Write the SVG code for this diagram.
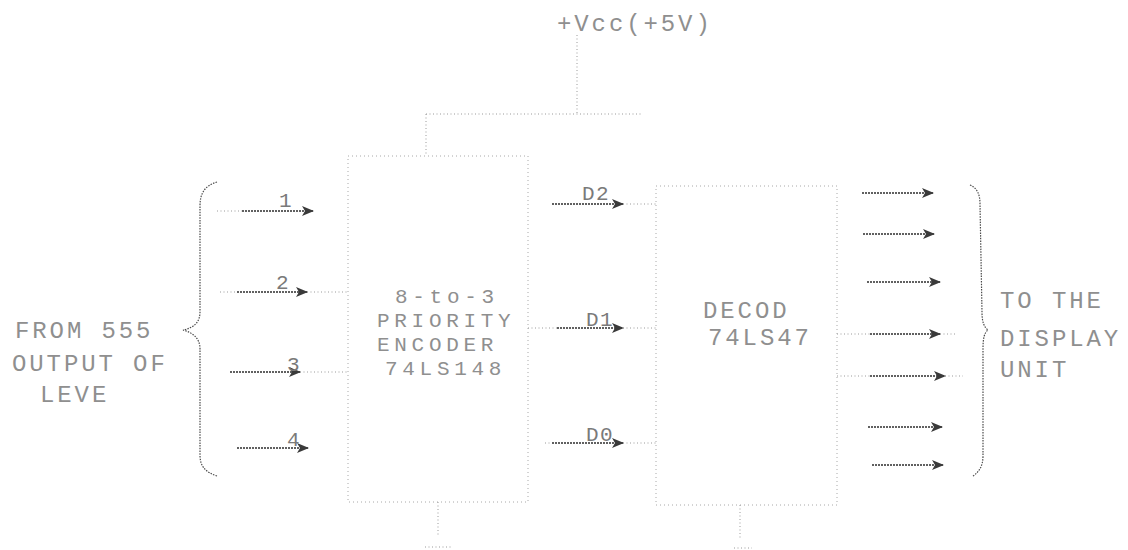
<svg xmlns="http://www.w3.org/2000/svg" width="1128" height="550" viewBox="0 0 1128 550">
<style>
.t{font-family:"Liberation Mono","DejaVu Sans Mono",monospace;font-size:24px;letter-spacing:2.9px;fill:#8f8f8f}
.e{font-size:21px;letter-spacing:4.7px}
.s{font-size:21px;letter-spacing:1.5px;fill:#7a7a7a}
.lt{fill:none;stroke:#9a9a9a;stroke-width:1;stroke-dasharray:1 2.5}
.bx{fill:none;stroke:#a8a8a8;stroke-width:1;stroke-dasharray:1 3}
.dk{fill:none;stroke:#2e2e2e;stroke-width:1.3;stroke-dasharray:2 1}
.br{fill:none;stroke:#4a4a4a;stroke-width:1.2;stroke-dasharray:1.5 1.2}
</style>
<defs>
<marker id="ah" viewBox="0 0 12 10" refX="11" refY="5" markerWidth="12" markerHeight="10" markerUnits="userSpaceOnUse" orient="auto">
<path d="M0,0 L12,5 L0,10 L3,5 Z" fill="#3a3a3a"/>
</marker>
</defs>
<rect width="1128" height="550" fill="#fff"/>

<g id="vcc">
<text class="t" x="557" y="31">+Vcc(+5V)</text>
</g>

<g id="source-label">
<text class="t" x="15" y="338">FROM 555</text>
<text class="t" x="12" y="371">OUTPUT OF</text>
<text class="t" x="40" y="402">LEVE</text>
<path class="br" d="M217,182 C204,186 200,194 200,206 L200,312 C200,322 194,328 183,330 C194,333 200,339 200,349 L200,455 C200,466 205,472 217,476"/>
</g>

<g id="encoder">
<rect class="bx" x="348" y="156" width="180" height="346"/>
<text class="t e" x="395" y="303">8-to-3</text>
<text class="t e" x="377" y="327">PRIORITY</text>
<text class="t e" x="377" y="351">ENCODER</text>
<text class="t e" x="385" y="375">74LS148</text>
</g>

<g id="decoder">
<rect class="bx" x="656" y="186" width="181" height="319"/>
<text class="t" x="703" y="318">DECOD</text>
<text class="t" x="708" y="345">74LS47</text>
</g>

<g id="display-label">
<path class="br" d="M970,185 C977,188 980,194 980,204 L982,312 C982,322 984,327 988,330 C984,333 983,339 983,349 L983,456 C983,466 979,472 973,476"/>
<text class="t" x="1000" y="308">TO THE</text>
<text class="t" x="1000" y="346">DISPLAY</text>
<text class="t" x="1000" y="377">UNIT</text>
</g>

<g id="connectors">
<!-- Vcc supply -->
<path class="lt" d="M577,35 L577,114 M426,114 L643,114 M426,114 L426,156"/>
<!-- ground stubs -->
<path class="lt" d="M438,502 L438,536 M425,547 L452,547 M740,505 L740,540 M734,548 L752,548"/>
<!-- inputs -->
<path class="lt" d="M217,211 L242,211"/>
<path class="dk" marker-end="url(#ah)" d="M242,211 L313,211"/>
<path class="lt" d="M220,292 L237,292 M307,292 L348,292"/>
<path class="dk" marker-end="url(#ah)" d="M237,292 L307,292"/>
<path class="lt" d="M300,372 L348,372"/>
<path class="dk" marker-end="url(#ah)" d="M230,372 L300,372"/>
<path class="dk" marker-end="url(#ah)" d="M237,448 L308,448"/>
<text class="t s" x="279" y="207">1</text>
<text class="t s" x="276" y="289">2</text>
<text class="t s" x="287" y="371">3</text>
<text class="t s" x="287" y="446">4</text>
<!-- encoder to decoder -->
<path class="lt" d="M623,204 L656,204"/>
<path class="dk" marker-end="url(#ah)" d="M552,204 L623,204"/>
<path class="lt" d="M528,328 L557,328 M623,328 L656,328"/>
<path class="dk" marker-end="url(#ah)" d="M557,328 L623,328"/>
<path class="lt" d="M545,443 L552,443 M623,443 L656,443"/>
<path class="dk" marker-end="url(#ah)" d="M552,443 L623,443"/>
<text class="t s" x="582" y="200">D2</text>
<text class="t s" x="586" y="326">D1</text>
<text class="t s" x="586" y="441">D0</text>
<!-- outputs -->
<path class="dk" marker-end="url(#ah)" d="M862,193 L933,193"/>
<path class="dk" marker-end="url(#ah)" d="M863,234 L934,234"/>
<path class="dk" marker-end="url(#ah)" d="M867,282 L940,282"/>
<path class="lt" d="M837,334 L870,334 M940,334 L955,334"/>
<path class="dk" marker-end="url(#ah)" d="M870,334 L940,334"/>
<path class="lt" d="M837,376 L870,376 M945,376 L963,376"/>
<path class="dk" marker-end="url(#ah)" d="M870,376 L945,376"/>
<path class="dk" marker-end="url(#ah)" d="M868,427 L942,427"/>
<path class="dk" marker-end="url(#ah)" d="M872,465 L943,465"/>
</g>
</svg>
